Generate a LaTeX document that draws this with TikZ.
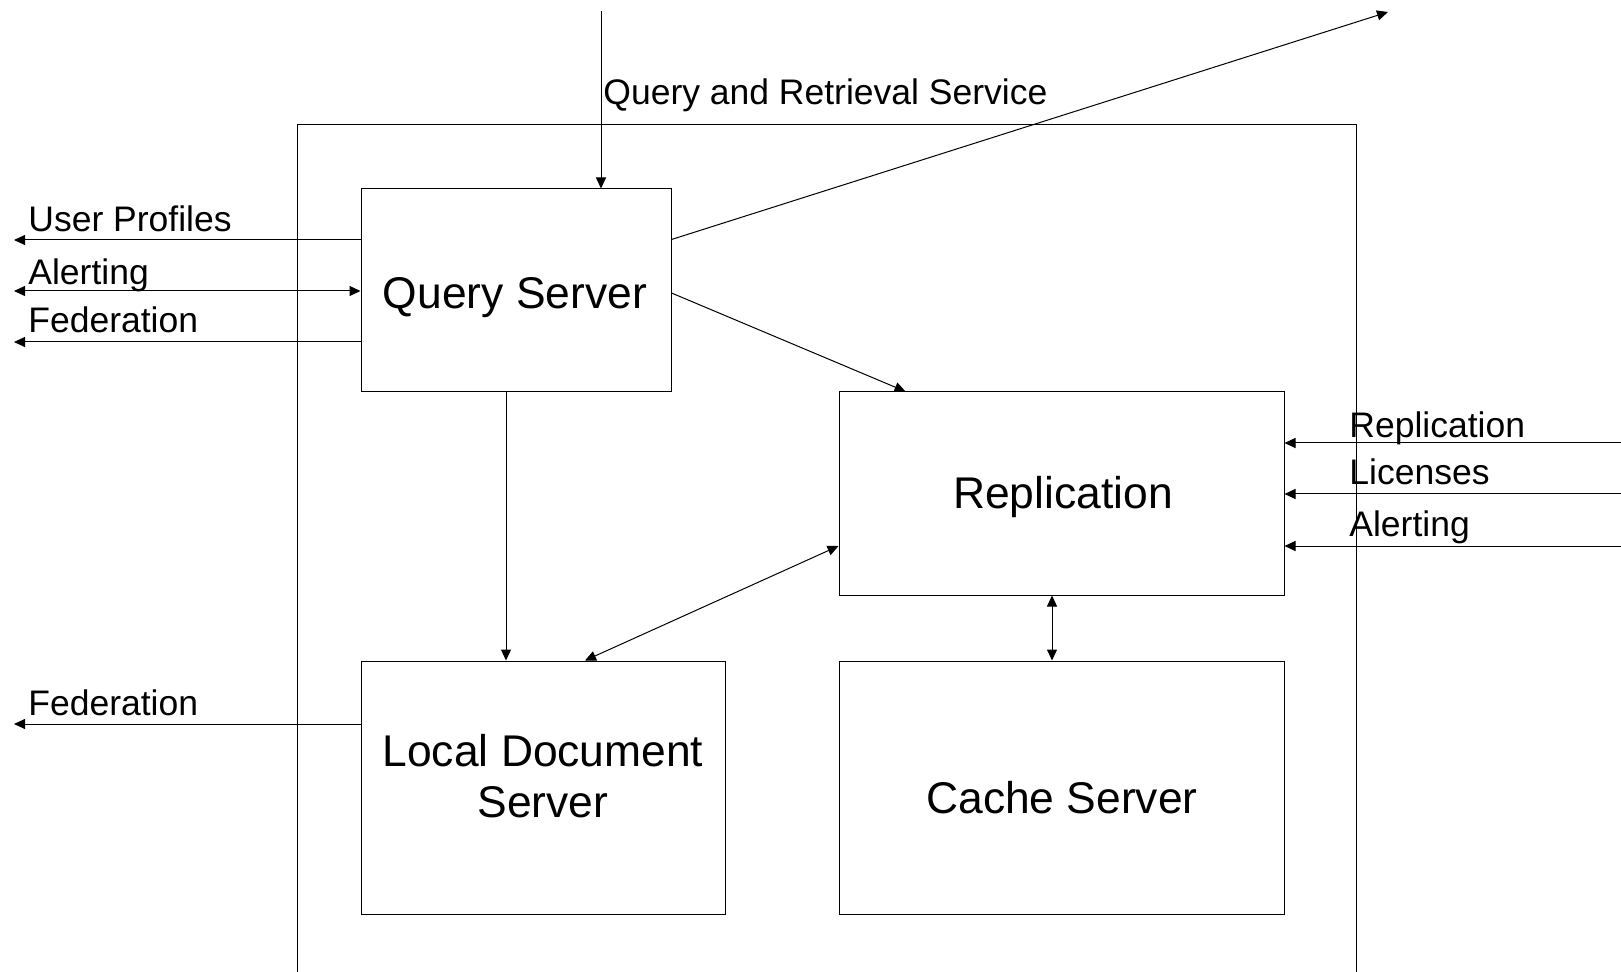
\documentclass[tikz,border=0pt]{standalone}
\usepackage{fontspec}
\setmainfont{Liberation Sans}
\usetikzlibrary{arrows.meta}

\tikzset{
  box/.style={draw, line width=0.5pt, inner sep=0pt},
  boxtext/.style={inner sep=0pt, anchor=base, align=center,
    font=\fontsize{22.2pt}{25.5pt}\selectfont},
  lbl/.style={inner sep=0pt, anchor=base west,
    font=\fontsize{17.75pt}{20pt}\selectfont},
  tip/.style={Triangle[length=5.5pt,width=5pt]},
  conn/.style={line width=0.5pt, -{Triangle[length=5.5pt,width=5pt]}},
  conn2/.style={line width=0.5pt, {Triangle[length=5.5pt,width=5pt]}-{Triangle[length=5.5pt,width=5pt]}},
}

\begin{document}
\begin{tikzpicture}[x=0.5pt, y=-0.5pt]
  \useasboundingbox (0,0) rectangle (1621,972);

  % enclosing service frame, open at the bottom
  \draw[line width=0.5pt] (297,972) -- (297,125) -- (1356,125) -- (1356,972);

  % server blocks
  \node[box, minimum width=155pt, minimum height=101.5pt] (qs) at (516,290.5) {};
  \node[box, minimum width=222.5pt, minimum height=101.5pt] (rep) at (1061.5,493.5) {};
  \node[box, minimum width=182pt, minimum height=126.5pt] (lds) at (543,787.5) {};
  \node[box, minimum width=222.5pt, minimum height=126.5pt] (cache) at (1061.5,787.5) {};

  % block titles
  \node[boxtext] (qst) at (515,309) {Query Server};
  \node[boxtext] (rept) at (1063,509) {Replication};
  \node[boxtext] (ldst1) at (543,766) {Local Document};
  \node[boxtext] (ldst2) at (543,817) {Server};
  \node[boxtext] (cachet) at (1062,813) {Cache Server};

  % free ends of external connectors
  \coordinate (tin) at (601,11);
  \coordinate (tout) at (1388,12);
  \coordinate (lup) at (14,240);
  \coordinate (lal) at (14,291);
  \coordinate (lfe) at (14,342);
  \coordinate (lfe2) at (14,724);
  \coordinate (rre) at (1621,443);
  \coordinate (rli) at (1621,494);
  \coordinate (ral) at (1621,546);

  % incoming query service and outgoing link
  \draw[conn] (tin) -- (tin |- qs.north);
  \node[lbl] (qrs) at (603,105) {Query and Retrieval Service};
  \draw[conn] ([yshift=-25.5pt]qs.north east) -- (tout);

  % internal connectors
  \draw[conn] ([yshift=-1.25pt]qs.east) -- ([xshift=33.5pt]rep.north west);
  \draw[conn] ([xshift=-5pt]qs.south) -- ([xshift=-5pt]qs.south |- lds.north);
  \draw[conn2] ([xshift=21pt]lds.north) -- ([yshift=-26.25pt]rep.west);
  \draw[conn2] ([xshift=-4.75pt]rep.south) -- ([xshift=-4.75pt]rep.south |- cache.north);

  % left-hand interfaces
  \draw[conn] (qs.west |- lup) -- (lup);
  \draw[conn2] (lal) -- (qs.west |- lal);
  \draw[conn] (qs.west |- lfe) -- (lfe);
  \draw[conn] (lds.west |- lfe2) -- (lfe2);
  \node[lbl] (lupt) at (28,232) {User Profiles};
  \node[lbl] (lalt) at (28,285) {Alerting};
  \node[lbl] (lfet) at (28,333) {Federation};
  \node[lbl] (lfe2t) at (28,715) {Federation};

  % right-hand interfaces
  \draw[conn] (rre) -- (rep.east |- rre);
  \draw[conn] (rli) -- (rep.east |- rli);
  \draw[conn] (ral) -- (rep.east |- ral);
  \node[lbl] (rret) at (1349,438) {Replication};
  \node[lbl] (rlit) at (1349,485) {Licenses};
  \node[lbl] (ralt) at (1349,537) {Alerting};
\end{tikzpicture}
\end{document}
